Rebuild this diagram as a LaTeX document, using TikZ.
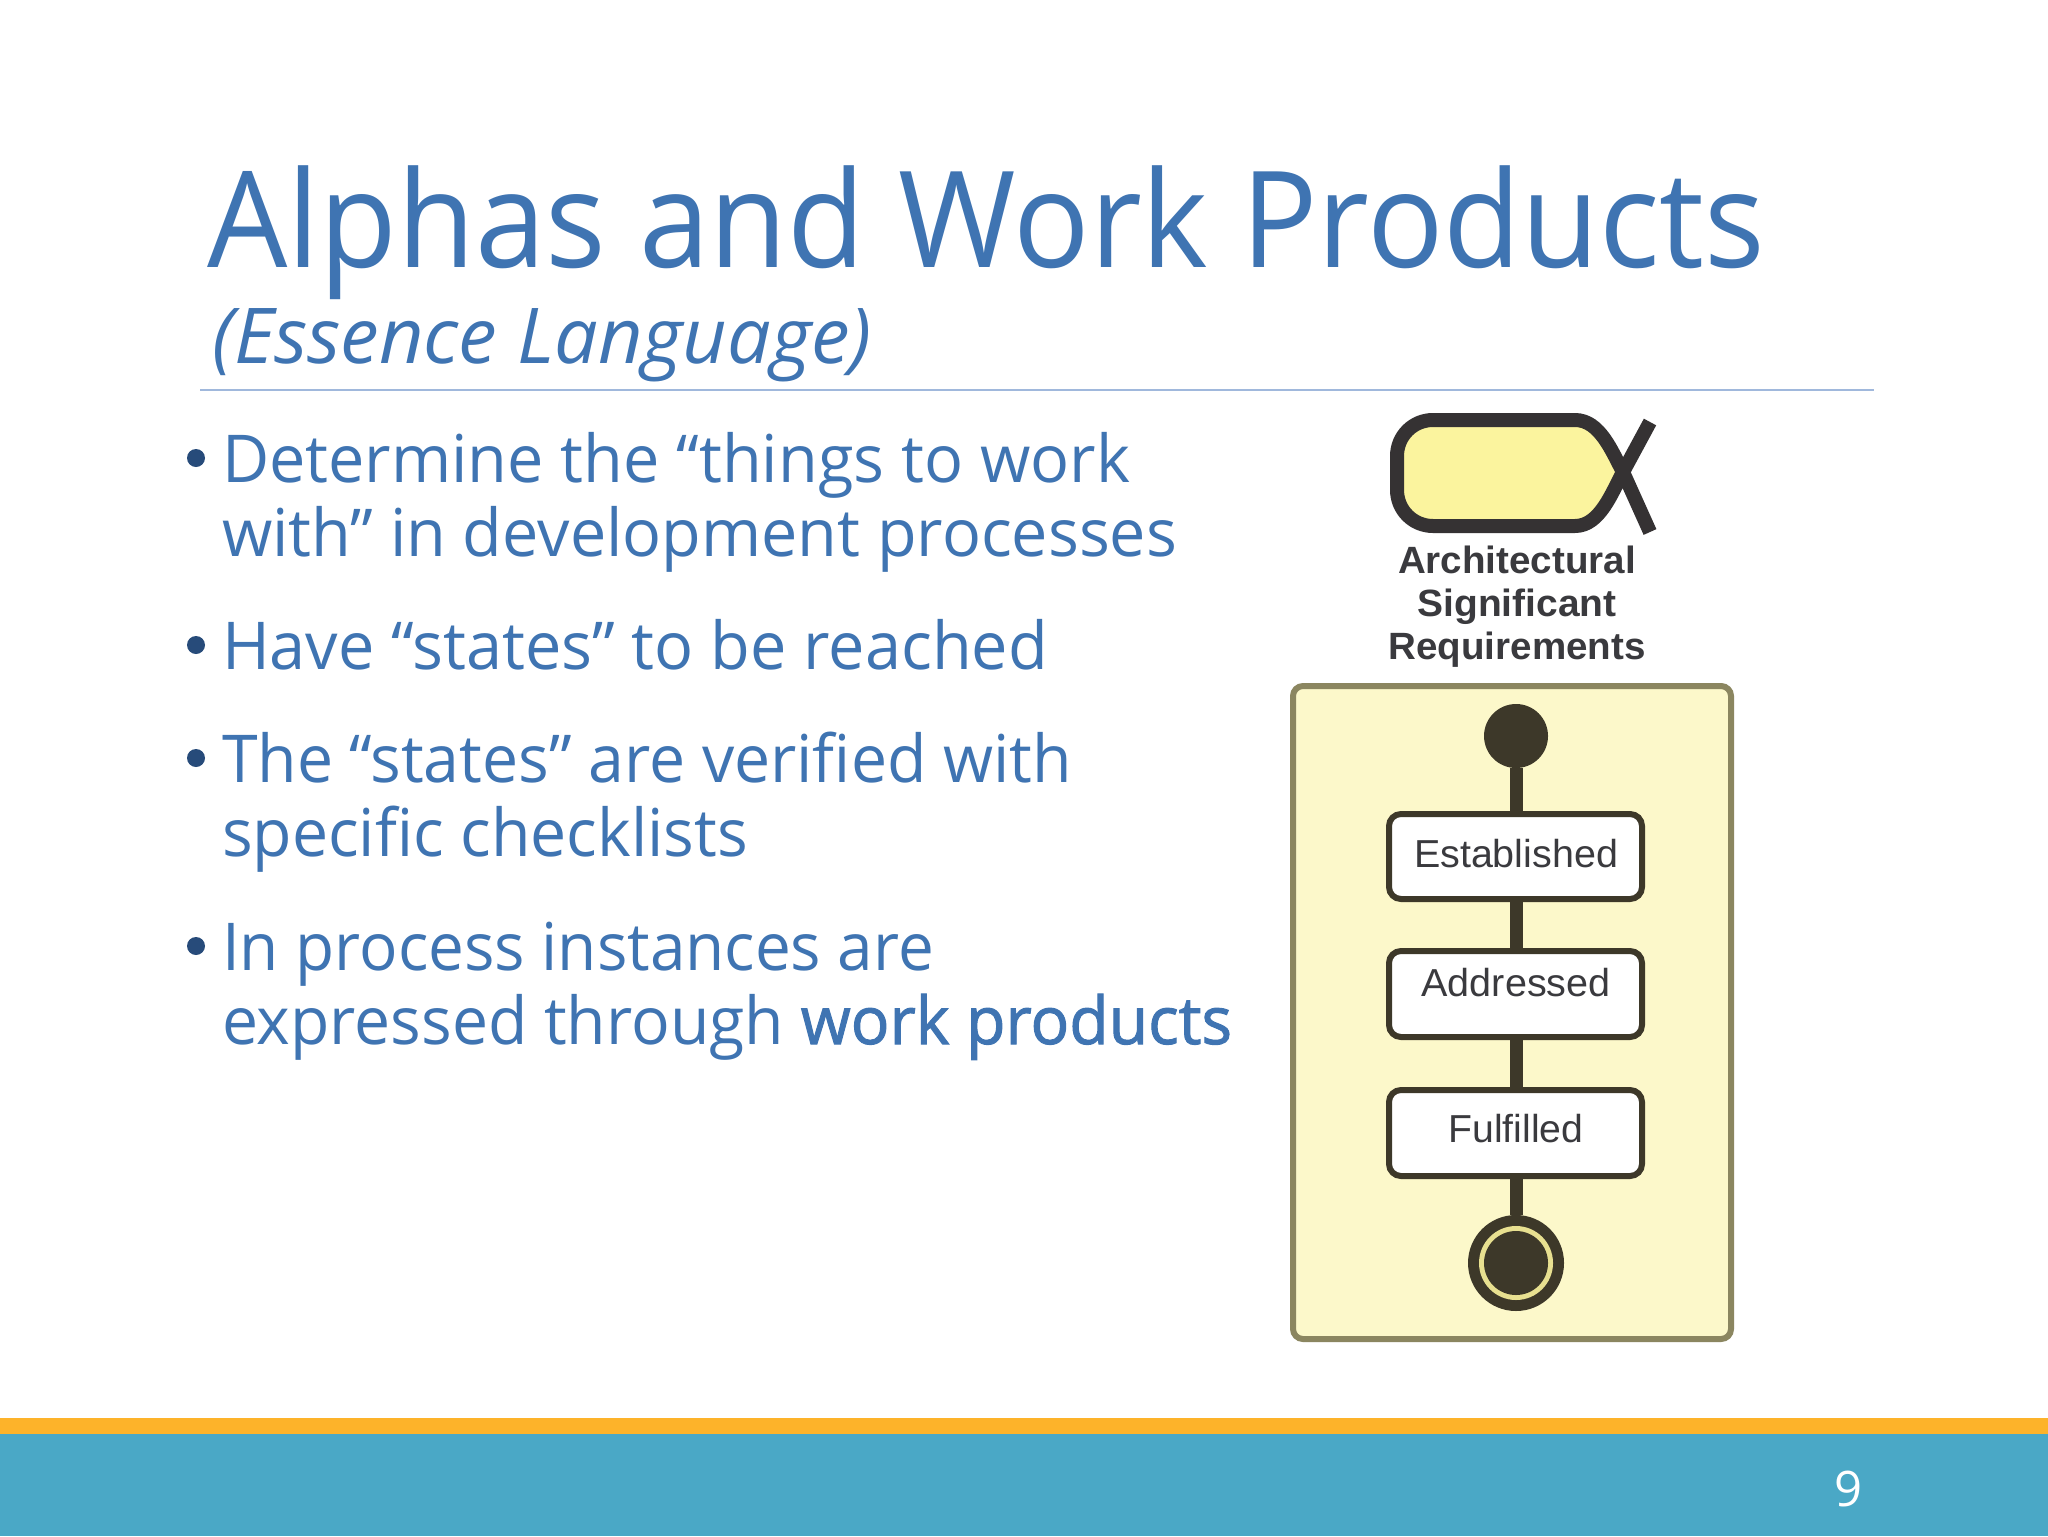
\documentclass[tikz,border=0pt]{standalone}
\usepackage{fontspec}
\usepackage{graphicx}
\setmainfont{Open Sans}
\newfontfamily\bodyfont{Open Sans}
\newfontfamily\semifont[FakeBold=1.5]{Open Sans}
\setsansfont{Liberation Sans}
\definecolor{slideblue}{HTML}{3F74B2}
\definecolor{bulletblue}{HTML}{274B7A}
\definecolor{rulecol}{HTML}{A0B8DC}
\definecolor{barorange}{HTML}{FDB32A}
\definecolor{barteal}{HTML}{4AA8C6}
\definecolor{darkline}{HTML}{3D3829}
\definecolor{alphaline}{HTML}{353233}
\definecolor{boxedge}{HTML}{8B8660}
\definecolor{boxfill}{HTML}{FCF8CA}
\definecolor{alphafill}{HTML}{FBF49E}
\definecolor{ringcol}{HTML}{E8E090}
\definecolor{labelcol}{HTML}{3A3A3E}
\newcommand{\fitw}[2]{\resizebox{#1pt}{\height}{#2}}
\tikzset{
  txt/.style={anchor=base west,inner sep=0pt,outer sep=0pt,text=slideblue},
  titletxt/.style={txt,font=\bodyfont\fontsize{67}{67}\selectfont},
  subtxt/.style={txt,font=\bodyfont\itshape\fontsize{38.5}{38.5}\selectfont},
  bodytxt/.style={txt,font=\bodyfont\fontsize{33}{33}\selectfont},
  bul/.style={circle,fill=bulletblue,inner sep=0pt,minimum size=9pt},
  statebox/.style={draw=darkline,fill=white,line width=3pt,rounded corners=6pt,minimum width=126.5pt,inner sep=0pt},
  statetxt/.style={anchor=base,inner sep=0pt,text=labelcol,font=\sffamily\fontsize{19.5}{19.5}\selectfont},
  alphatxt/.style={anchor=base,inner sep=0pt,text=labelcol,font=\sffamily\bfseries\fontsize{19}{19}\selectfont},
  flow/.style={draw=darkline,line width=6.5pt},
}
\begin{document}
\begin{tikzpicture}[x=0.5pt,y=-0.5pt]
\useasboundingbox (0,0) rectangle (2048,1536);
\fill[white] (0,0) rectangle (2048,1536);
% footer
\fill[barteal] (0,1434) rectangle (2048,1536);
\fill[barorange] (0,1418) rectangle (2048,1434);
\node[anchor=base,inner sep=0pt,text=white,font=\bodyfont\fontsize{24.5}{24.5}\selectfont] (pagenum) at (1848,1506) {9};
% title
\node[titletxt] (title) at (207,267) {\fitw{779}{Alphas and Work Products}};
\node[subtxt] (subtitle) at (212,363) {\fitw{330}{(Essence Language)}};
\draw[rulecol,line width=1pt] (200,389.5) -- (1874,389.5);
% bullets
\node[bul] (b1) at (196,458) {};
\node[bodytxt] (l1) at (222,482) {\fitw{454}{Determine the “things to work}};
\node[bodytxt] (l2) at (222,556) {\fitw{477.5}{with” in development processes}};
\node[bul] (b2) at (196,645) {};
\node[bodytxt] (l3) at (222,669) {\fitw{413}{Have “states” to be reached}};
\node[bul] (b3) at (196,758) {};
\node[bodytxt] (l4) at (222,782) {\fitw{425}{The “states” are verified with}};
\node[bodytxt] (l5) at (222,856) {\fitw{263}{specific checklists}};
\node[bul] (b4) at (196,946) {};
\node[bodytxt] (l6) at (222,970) {\fitw{356}{In process instances are}};
\node[bodytxt] (l7) at (222,1044) {\fitw{505}{expressed through {\semifont work products}}};
% alpha symbol
\fill[alphafill] (1623,472) .. controls (1612,452) and (1600,420) .. (1575,420) -- (1433,420)
  .. controls (1413,420) and (1397,436) .. (1397,456) -- (1397,490)
  .. controls (1397,510) and (1413,526) .. (1433,526) -- (1575,526)
  .. controls (1600,526) and (1612,492) .. (1623,472) -- cycle;
\coordinate (tipa) at (1650,422);
\coordinate (tipb) at (1650,532);
\draw[alphaline,line width=7pt,line join=round] (tipb) -- (1623,472) .. controls (1612,452) and (1600,420) .. (1575,420) -- (1433,420)
  .. controls (1413,420) and (1397,436) .. (1397,456) -- (1397,490)
  .. controls (1397,510) and (1413,526) .. (1433,526) -- (1575,526)
  .. controls (1600,526) and (1612,492) .. (1623,472) -- (tipa);
\node[alphatxt] (a1) at (1517,573) {\fitw{119}{Architectural}};
\node[alphatxt] (a2) at (1517,616) {\fitw{99.5}{Significant}};
\node[alphatxt] (a3) at (1517,659) {\fitw{128.5}{Requirements}};
% state machine panel
\draw[draw=boxedge,fill=boxfill,line width=3pt,rounded corners=5pt] (1293,686) rectangle (1731,1339);
\node[circle,fill=darkline,inner sep=0pt,minimum size=32pt] (start) at (1516,736) {};
\node[statebox,minimum height=42.5pt] (est) at (1515.5,856.5) {};
\node[statebox,minimum height=43pt] (adr) at (1515.5,994) {};
\node[statebox,minimum height=43pt] (ful) at (1515.5,1133) {};
\node[circle,fill=darkline,inner sep=0pt,minimum size=48pt] (finish) at (1516,1263) {};
\node[circle,fill=ringcol,inner sep=0pt,minimum size=37pt] (ring) at (1516,1263) {};
\node[circle,fill=darkline,inner sep=0pt,minimum size=32pt] (core) at (1516,1263) {};
\draw[flow] (start.south) -- (start.south |- est.north);
\draw[flow] (start.south |- est.south) -- (start.south |- adr.north);
\draw[flow] (start.south |- adr.south) -- (start.south |- ful.north);
\draw[flow] (start.south |- ful.south) -- (finish.north);
\node[statetxt] (estt) at (1516,867) {\fitw{102}{Established}};
\node[statetxt] (adrt) at (1516,996) {\fitw{94.5}{Addressed}};
\node[statetxt] (fult) at (1516,1142) {\fitw{67.5}{Fulfilled}};
\end{tikzpicture}
\end{document}
